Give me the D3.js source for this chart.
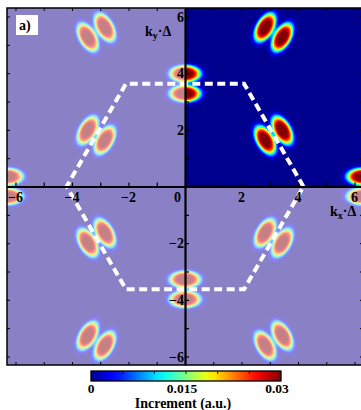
<!DOCTYPE html>
<html>
<head>
<meta charset="utf-8">
<script src="https://cdn.jsdelivr.net/npm/d3@7"></script>
<style>
  body { margin: 0; background: #fff; }
  text { font-family: "Liberation Serif", "DejaVu Serif", serif; font-weight: bold; }
</style>
</head>
<body>
<div id="chart"></div>
<script>
// M points of the triangular lattice BZ where the blob pairs sit (k·Δ units)
const pairKx = [0, 0, 3.14, -3.14, 3.14, -3.14, 3.14, -3.14, 3.14, -3.14, 6.28, -6.28];
const pairKy = [3.63, -3.63, 1.81, -1.81, -1.81, 1.81, 5.44, -5.44, -5.44, 5.44, 0, 0];
const pairAngle = [90, 90, 30, 30, -30, -30, -30, -30, 30, 30, 90, 90]; // direction the two lobes split along
const pairPeak = [0.031, 0.031, 0.031, 0.031, 0.031, 0.031, 0.031, 0.031, 0.031, 0.031, 0.031, 0.031];

// lobe shape (k·Δ units)
const lobeOffset = 0.35, lobeOut = 0.30, lobeIn = 0.30, lobeLen = 0.55, lobePow = 2;

// first Brillouin zone
const hexKx = [4.19, 2.09, -2.09, -4.19, -2.09, 2.09];
const hexKy = [0, 3.63, 3.63, 0, -3.63, -3.63];

const axisLabels = [-6, -4, -2, 2, 4, 6];
const axisTicks = d3.range(-6, 7);
const cbLabels = [0, 0.015, 0.03];
const cbTicks = [0.005, 0.01, 0.015, 0.02, 0.025];

const W = 361, H = 410;
const x = d3.scaleLinear().domain([-6.3, 6.3]).range([7, 363]);
const y = d3.scaleLinear().domain([-6.3, 6.3]).range([365, 8]);
const x0 = x(0), y0 = y(0);

const jet = t => {
    const c = v => Math.max(0, Math.min(1, v));
    const r = c(Math.min(4 * t - 1.5, -4 * t + 4.5));
    const g = c(Math.min(4 * t - 0.5, -4 * t + 3.5));
    const b = c(Math.min(4 * t + 0.5625, -4 * t + 2.5));
    return d3.rgb(r * 255, g * 255, b * 255);
};
const color = d3.scaleSequential(jet).domain([0, 0.03]).clamp(true);

const svg = d3.select("#chart")
    .append("svg")
        .attr("width", W)
        .attr("height", H);

// heat map
function increment(kx, ky) {
    let v = 0;
    for (let i = 0; i < pairKx.length; i++) {
        const dx = kx - pairKx[i], dy = ky - pairKy[i];
        if (Math.abs(dx) > 1.5 || Math.abs(dy) > 1.5) continue;
        const a = pairAngle[i] * Math.PI / 180;
        const u = dx * Math.cos(a) + dy * Math.sin(a);
        const w = -dx * Math.sin(a) + dy * Math.cos(a);
        [1, -1].forEach(s => {
            const du = s * u - lobeOffset;
            const su = du > 0 ? lobeOut : lobeIn;
            const r2 = (du / su) ** 2 + (w / lobeLen) ** 2;
            v += pairPeak[i] * Math.exp(-Math.pow(r2, lobePow));
        });
    }
    return v;
}

const pLeft = x(-6.3), pTop = y(6.3);
const cw = Math.round(x(6.3) - pLeft), ch = Math.round(y(-6.3) - pTop);
const canvas = document.createElement("canvas");
canvas.width = cw; canvas.height = ch;
const ctx = canvas.getContext("2d");
const img = ctx.createImageData(cw, ch);
for (let j = 0; j < ch; j++) {
    const kyv = y.invert(pTop + j + 0.5);
    for (let i = 0; i < cw; i++) {
        const kxv = x.invert(pLeft + i + 0.5);
        const c = color(increment(kxv, kyv));
        const k = (j * cw + i) * 4;
        img.data[k] = c.r; img.data[k + 1] = c.g; img.data[k + 2] = c.b; img.data[k + 3] = 255;
    }
}
ctx.putImageData(img, 0, 0);
svg.append("image")
    .attr("x", pLeft)
    .attr("y", pTop)
    .attr("width", cw)
    .attr("height", ch)
    .attr("href", canvas.toDataURL());

// washed-out quadrants
const veil = svg.append("g")
    .attr("fill", "rgb(250,233,243)")
    .attr("opacity", 0.55);
veil.append("rect")
    .attr("x", pLeft).attr("y", pTop)
    .attr("width", x0 - pLeft).attr("height", ch);
veil.append("rect")
    .attr("x", x0).attr("y", y0)
    .attr("width", pLeft + cw - x0).attr("height", pTop + ch - y0);

// Brillouin zone
svg.append("path")
    .attr("d", d3.line()(hexKx.map((d, i) => [x(d), y(hexKy[i])])) + "Z")
    .attr("fill", "none")
    .attr("stroke", "white")
    .attr("stroke-width", 4)
    .attr("stroke-dasharray", "8,4.5");

// axes through the origin
svg.append("g")
    .attr("transform", `translate(0,${y0})`)
    .call(d3.axisTop(x).tickValues(axisTicks).tickSize(4).tickFormat("").tickSizeOuter(0))
    .call(g => g.selectAll("line").attr("stroke-width", 1.2))
    .call(g => g.select(".domain").attr("stroke-width", 2.2));
svg.append("g")
    .attr("transform", `translate(${x0},0)`)
    .call(d3.axisRight(y).tickValues(axisTicks).tickSize(4).tickFormat("").tickSizeOuter(0))
    .call(g => g.selectAll("line").attr("stroke-width", 1.2))
    .call(g => g.select(".domain").attr("stroke-width", 2.2));

// frame with inward ticks
const frameAxes = [
    [d3.axisBottom(x), `translate(0,${pTop})`],
    [d3.axisTop(x), `translate(0,${pTop + ch})`],
    [d3.axisRight(y), `translate(${pLeft},0)`],
    [d3.axisLeft(y), `translate(${pLeft + cw},0)`]
];
frameAxes.forEach(([ax, tr]) => {
    svg.append("g")
        .attr("transform", tr)
        .call(ax.tickValues(axisTicks).tickSize(3).tickFormat("").tickSizeOuter(0))
        .call(g => g.select(".domain").remove());
});
svg.append("rect")
    .attr("x", pLeft).attr("y", pTop)
    .attr("width", cw).attr("height", ch)
    .attr("fill", "none")
    .attr("stroke", "black")
    .attr("stroke-width", 1.5);

const fmt = d => d < 0 ? "\u2212" + Math.abs(d) : String(d);
svg.append("g")
    .selectAll("text")
    .data(axisLabels)
    .enter()
    .append("text")
        .attr("x", d => x(d))
        .attr("y", y0 + 15)
        .attr("text-anchor", "middle")
        .style("font-size", "14px")
        .text(fmt);
svg.append("text")
    .attr("x", x0 - 4)
    .attr("y", y0 + 15)
    .attr("text-anchor", "end")
    .style("font-size", "14px")
    .text("0");
svg.append("g")
    .selectAll("text")
    .data(axisLabels)
    .enter()
    .append("text")
        .attr("x", x0 - 1)
        .attr("y", d => y(d) + 5)
        .attr("text-anchor", "end")
        .style("font-size", "14px")
        .text(fmt);

// axis titles
const kyTitle = svg.append("text").attr("x", 145).attr("y", 36).style("font-size", "14px");
kyTitle.append("tspan").text("k");
kyTitle.append("tspan").attr("dy", 3).style("font-size", "10px").text("y");
kyTitle.append("tspan").attr("dy", -3).text("\u00b7\u0394");
const kxTitle = svg.append("text").attr("x", 330).attr("y", 216).style("font-size", "14px");
kxTitle.append("tspan").text("k");
kxTitle.append("tspan").attr("dy", 3).style("font-size", "10px").text("x");
kxTitle.append("tspan").attr("dy", -3).text("\u00b7\u0394");

// panel tag
svg.append("rect")
    .attr("x", 16).attr("y", 15)
    .attr("width", 22).attr("height", 20)
    .attr("fill", "white");
svg.append("text")
    .attr("x", 19).attr("y", 30)
    .style("font-size", "14px")
    .text("a)");

// colour bar
const cb = d3.scaleLinear().domain([0, 0.03]).range([91, 281]);
const grad = svg.append("defs").append("linearGradient").attr("id", "jet");
d3.range(0, 1.0001, 0.05).forEach(t => {
    grad.append("stop")
        .attr("offset", t)
        .attr("stop-color", color(t * 0.03));
});
svg.append("rect")
    .attr("x", cb(0)).attr("y", 371)
    .attr("width", cb(0.03) - cb(0)).attr("height", 10)
    .attr("fill", "url(#jet)")
    .attr("stroke", "black")
    .attr("stroke-width", 1.3);
svg.append("g")
    .selectAll("line")
    .data(cbTicks)
    .enter()
    .append("line")
        .attr("x1", d => cb(d)).attr("x2", d => cb(d))
        .attr("y1", 371).attr("y2", 374)
        .attr("stroke", "black")
        .attr("stroke-width", 0.8);
svg.append("g")
    .selectAll("text")
    .data(cbLabels)
    .enter()
    .append("text")
        .attr("x", d => cb(d))
        .attr("dx", d => d === 0 ? 0 : -4)
        .attr("y", 393)
        .attr("text-anchor", "middle")
        .style("font-size", "13.5px")
        .text(d => String(d));
svg.append("text")
    .attr("x", 183)
    .attr("y", 408)
    .attr("text-anchor", "middle")
    .style("font-size", "14px")
    .text("Increment (a.u.)");
</script>
</body>
</html>
